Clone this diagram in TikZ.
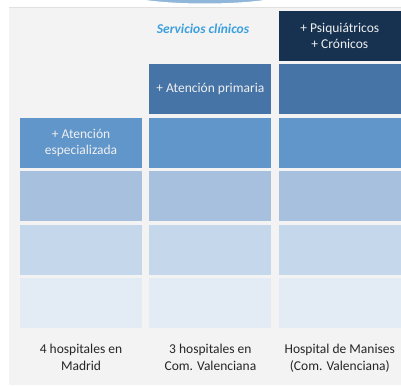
\documentclass[tikz,border=0pt]{standalone}
\usepackage{fontspec}
\setmainfont{Carlito}
\usepackage{tikz}
\usetikzlibrary{positioning}
\definecolor{tiernavy}{RGB}{22,50,80}
\definecolor{tiersteel}{RGB}{70,116,166}
\definecolor{tiermid}{RGB}{96,150,202}
\definecolor{tierlight}{RGB}{167,192,222}
\definecolor{tierpale}{RGB}{197,215,235}
\definecolor{tierfaint}{RGB}{227,235,245}
\definecolor{panelgray}{RGB}{243,243,243}
\definecolor{titleblue}{RGB}{60,160,222}
\definecolor{labelgray}{RGB}{38,38,38}

\begin{document}
\begin{tikzpicture}[
  x=1pt, y=-1pt,
  font=\fontsize{13.5}{16.5}\selectfont,
  tier/.style={minimum width=122pt, minimum height=50pt, inner sep=0pt,
               align=center, text=white!94!black},
  hosp/.style={align=center, inner sep=0pt, text=labelgray},
  node distance=3pt and 7pt
]
\useasboundingbox (0,0) rectangle (401,385);
% panel and the strip above it
\fill[panelgray] (9,8) rectangle (401,385);
\fill[black!12] (9,7) rectangle (401,8);
\begin{scope}
  \clip (0,0) rectangle (401,7);
  \fill[tiermid!70, draw=white, line width=1pt] (205,-10) ellipse (90pt and 14pt);
\end{scope}

% first column
\node[tier, fill=tierfaint] (madrid6) at (81,303) {};
\node[tier, fill=tierpale, above=of madrid6] (madrid5) {};
\node[tier, fill=tierlight, above=of madrid5] (madrid4) {};
\node[tier, fill=tiermid, above=of madrid4] (madrid3) {+ Atención\\especializada};
% second column
\node[tier, fill=tierfaint, right=of madrid6] (valencia6) {};
\node[tier, fill=tierpale, above=of valencia6] (valencia5) {};
\node[tier, fill=tierlight, above=of valencia5] (valencia4) {};
\node[tier, fill=tiermid, above=of valencia4] (valencia3) {};
\node[tier, fill=tiersteel, above=of valencia3] (valencia2) {+ Atención primaria};
% third column
\node[tier, fill=tierfaint, right=of valencia6] (manises6) {};
\node[tier, fill=tierpale, above=of manises6] (manises5) {};
\node[tier, fill=tierlight, above=of manises5] (manises4) {};
\node[tier, fill=tiermid, above=of manises4] (manises3) {};
\node[tier, fill=tiersteel, above=of manises3] (manises2) {};
\node[tier, fill=tiernavy, above=of manises2] (manises1) {+ Psiquiátricos\\+ Crónicos};

\node[text=titleblue, font=\fontsize{13.5}{16.5}\selectfont\bfseries\itshape]
  (title) at (203,28.5) {Servicios clínicos};

% hospital names
\node[hosp, below=16pt of madrid6] (madridlab) {4 hospitales en\\Madrid};
\node[hosp, below=16pt of valencia6] (valencialab) {3 hospitales en\\Com. Valenciana};
\node[hosp, below=16pt of manises6] (maniseslab) {Hospital de Manises\\(Com. Valenciana)};
\end{tikzpicture}
\end{document}
